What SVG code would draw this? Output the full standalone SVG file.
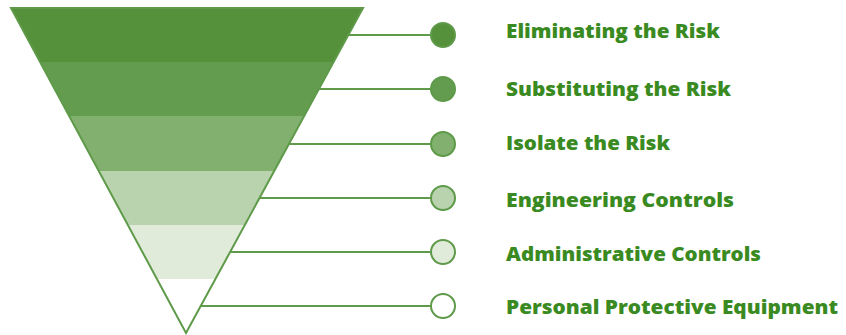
<svg xmlns="http://www.w3.org/2000/svg" width="846" height="335" viewBox="0 0 846 335">
<style>
.lbl{font-family:"Open Sans","Liberation Sans",sans-serif;font-weight:800;font-size:20px;fill:#3a8a22}
.ln{stroke:#5e9a49;stroke-width:2;fill:none}
.dot{stroke:#5e9a49;stroke-width:2}
</style>
<defs>
<clipPath id="tri"><polygon points="11,8 363,8 186,333"/></clipPath>
</defs>
<rect width="846" height="335" fill="#ffffff"/>
<g id="funnel">
<g clip-path="url(#tri)">
<rect x="0" y="8" width="380" height="54" fill="#55913a"/>
<rect x="0" y="62" width="380" height="54" fill="#649c4f"/>
<rect x="0" y="116" width="380" height="55" fill="#82b06f"/>
<rect x="0" y="171" width="380" height="54" fill="#b8d3ad"/>
<rect x="0" y="225" width="380" height="54" fill="#e0ebda"/>
<rect x="0" y="279" width="380" height="56" fill="#ffffff"/>
</g>
<polygon points="11,8 363,8 186,333" class="ln" stroke-linejoin="miter"/>
</g>
<g id="connectors">
<line x1="348" y1="35" x2="431" y2="35" class="ln"/>
<line x1="319" y1="89" x2="431" y2="89" class="ln"/>
<line x1="289" y1="144" x2="431" y2="144" class="ln"/>
<line x1="260" y1="198" x2="431" y2="198" class="ln"/>
<line x1="231" y1="252" x2="431" y2="252" class="ln"/>
<line x1="201" y1="306" x2="431" y2="306" class="ln"/>
</g>
<g id="n1"><circle cx="443" cy="35" r="12" fill="#55913a" class="dot"/><text x="506" y="37.5" class="lbl" textLength="214" lengthAdjust="spacingAndGlyphs">Eliminating the Risk</text></g>
<g id="n2"><circle cx="443" cy="89" r="12" fill="#649c4f" class="dot"/><text x="506" y="96" class="lbl" textLength="225" lengthAdjust="spacingAndGlyphs">Substituting the Risk</text></g>
<g id="n3"><circle cx="443" cy="144" r="12" fill="#82b06f" class="dot"/><text x="506" y="149.5" class="lbl" textLength="164" lengthAdjust="spacingAndGlyphs">Isolate the Risk</text></g>
<g id="n4"><circle cx="443" cy="198" r="12" fill="#b8d3ad" class="dot"/><text x="506" y="206.5" class="lbl" textLength="228" lengthAdjust="spacingAndGlyphs">Engineering Controls</text></g>
<g id="n5"><circle cx="443" cy="252" r="12" fill="#e0ebda" class="dot"/><text x="506" y="261" class="lbl" textLength="255" lengthAdjust="spacingAndGlyphs">Administrative Controls</text></g>
<g id="n6"><circle cx="443" cy="306" r="12" fill="#ffffff" class="dot"/><text x="506" y="313.5" class="lbl" textLength="332" lengthAdjust="spacingAndGlyphs">Personal Protective Equipment</text></g>
</svg>
